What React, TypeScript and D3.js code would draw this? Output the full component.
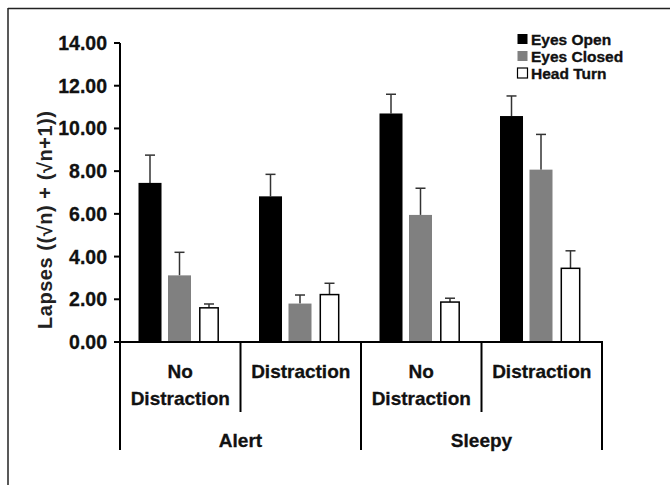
import React from "react";
import * as d3 from "d3";

const conditions = ["Alert", "Sleepy"];
const distractions = ["No Distraction", "Distraction"];
const seriesNames = ["Eyes Open", "Eyes Closed", "Head Turn"];

// one value per group: Alert/No, Alert/Dist, Sleepy/No, Sleepy/Dist
const eyesOpen = [7.45, 6.82, 10.7, 10.58];
const eyesOpenErr = [1.3, 1.03, 0.9, 0.94];
const eyesClosed = [3.12, 1.8, 5.95, 8.07];
const eyesClosedErr = [1.08, 0.4, 1.25, 1.65];
const headTurn = [1.6, 2.22, 1.87, 3.45];
const headTurnErr = [0.18, 0.53, 0.18, 0.82];

const yTicks = [0, 2, 4, 6, 8, 10, 12, 14];

const fills = ["#000000", "#808080", "#ffffff"];
const font = "'Liberation Sans', Arial, sans-serif";

const App = () => {
  const width = 670;
  const height = 485;

  const groupKeys = conditions.flatMap(c => distractions.map(d => `${c}|${d}`));
  const values = [eyesOpen, eyesClosed, headTurn];
  const errors = [eyesOpenErr, eyesClosedErr, headTurnErr];

  const y = d3.scaleLinear().domain([0, 14]).range([342, 43]);
  const x0 = d3.scaleBand().domain(groupKeys).range([120, 602]);
  const x1 = d3.scaleBand().domain(seriesNames).range([18.5, 100.5]).paddingInner(0.22);
  const xCond = d3.scaleBand().domain(conditions).range([120, 602]);
  const fmt = d3.format(".2f");

  const bars = [];
  groupKeys.forEach((g, gi) => {
    seriesNames.forEach((s, si) => {
      const v = values[si][gi];
      const e = errors[si][gi];
      const bw = si === 2 ? x1.bandwidth() * 0.8 : x1.bandwidth();
      const cx = x0(g) + x1(s) + x1.bandwidth() / 2;
      bars.push(
        <g key={g + s}>
          <line x1={cx} x2={cx} y1={y(v)} y2={y(v + e)} stroke="#333" strokeWidth={1.5} />
          <line x1={cx - 5} x2={cx + 5} y1={y(v + e)} y2={y(v + e)} stroke="#333" strokeWidth={1.5} />
          <rect
            x={cx - bw / 2}
            y={y(v)}
            width={bw}
            height={y(0) - y(v)}
            fill={fills[si]}
            stroke={si === 2 ? "#000" : "none"}
            strokeWidth={1.5}
          />
        </g>
      );
    });
  });

  return (
    <svg
      width={width}
      height={height}
      style={{ position: "absolute", left: 0, top: 0, background: "#fff" }}
      fontFamily={font}
      fontWeight="bold"
    >
      {/* frame */}
      <line x1={8} x2={8} y1={8} y2={485} stroke="#222" strokeWidth={1.5} />
      <line x1={8} x2={670} y1={8.5} y2={8.5} stroke="#222" strokeWidth={1.5} />

      {/* y axis */}
      <line x1={120} x2={120} y1={y(14)} y2={y(0)} stroke="#000" strokeWidth={2} />
      {yTicks.map(t => (
        <g key={t}>
          <line x1={114} x2={120} y1={y(t)} y2={y(t)} stroke="#000" strokeWidth={2} />
          <text x={107} y={y(t) + 7} textAnchor="end" fontSize={19.5} fill="#111" stroke="#111" strokeWidth={0.3}>
            {fmt(t)}
          </text>
        </g>
      ))}
      <text
        transform={`translate(52, 220) rotate(-90)`}
        textAnchor="middle"
        fontSize={20}
        textLength={218}
        lengthAdjust="spacing"
        fill="#222"
      >
        Lapses ((√n) + (√n+1))
      </text>

      {bars}

      {/* x axis + category brackets */}
      <line x1={119} x2={603} y1={y(0)} y2={y(0)} stroke="#000" strokeWidth={2} />
      {groupKeys.map((g, gi) => {
        const gx = x0(g) + x0.bandwidth() / 2;
        const label = g.split("|")[1];
        const lines = label === "No Distraction" ? ["No", "Distraction"] : [label];
        return (
          <g key={g}>
            {gi % 2 === 1 && (
              <line x1={x0(g)} x2={x0(g)} y1={y(0)} y2={412} stroke="#000" strokeWidth={2} />
            )}
            {lines.map((l, li) => (
              <text key={l} x={gx} y={378 + li * 27} textAnchor="middle" fontSize={19} fill="#111" stroke="#111" strokeWidth={0.3}>
                {l}
              </text>
            ))}
          </g>
        );
      })}
      {[120, xCond("Sleepy"), 602].map(px => (
        <line key={px} x1={px} x2={px} y1={y(0)} y2={450} stroke="#000" strokeWidth={2} />
      ))}
      {conditions.map(c => (
        <text key={c} x={xCond(c) + xCond.bandwidth() / 2} y={447} textAnchor="middle" fontSize={19} fill="#111" stroke="#111" strokeWidth={0.3}>
          {c}
        </text>
      ))}

      {/* legend */}
      {seriesNames.map((s, i) => (
        <g key={s} transform={`translate(517, ${33.5 + i * 17})`}>
          <rect x={0.5} y={0.5} width={10} height={10} fill={fills[i]} stroke={i === 2 ? "#000" : "none"} strokeWidth={1.2} />
          <text x={14} y={11} fontSize={15.5} fill="#111" stroke="#111" strokeWidth={0.35}>
            {s}
          </text>
        </g>
      ))}
    </svg>
  );
};

export default App;
